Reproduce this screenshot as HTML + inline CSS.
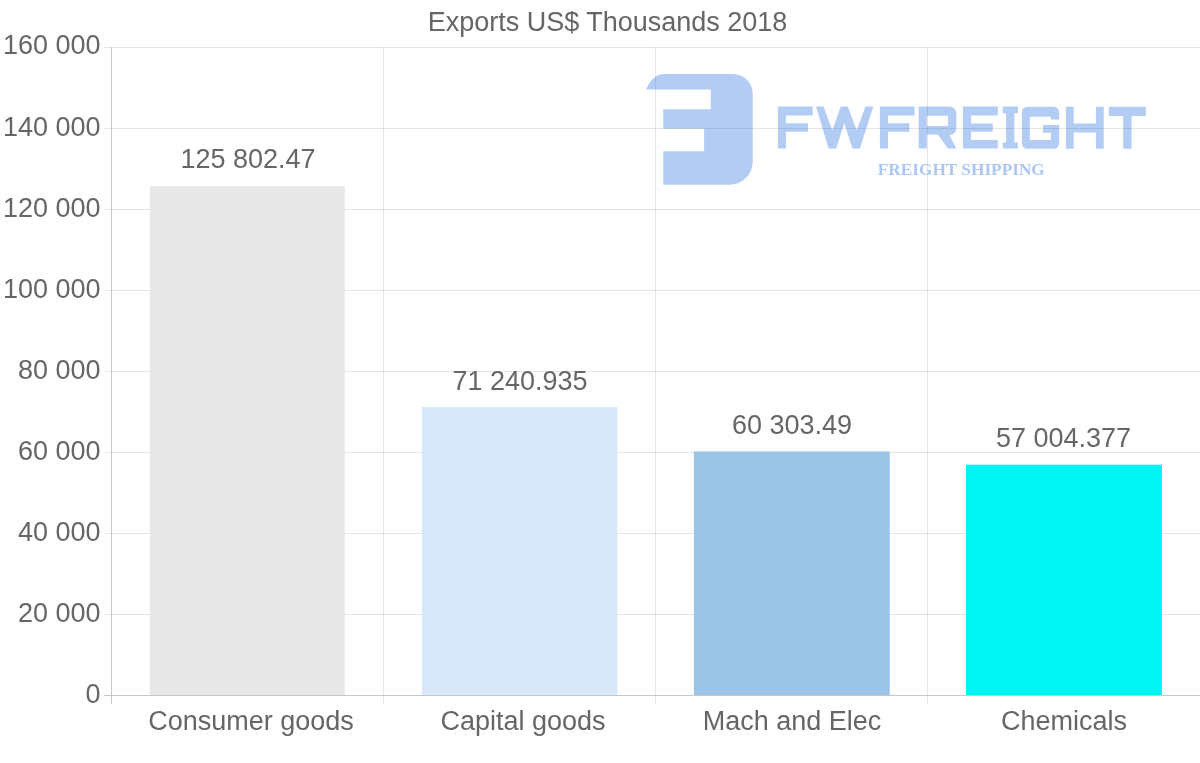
<!DOCTYPE html>
<html><head><meta charset="utf-8">
<style>
html,body{margin:0;padding:0;background:#fff;}
body{width:1200px;height:763px;overflow:hidden;position:relative;}
svg{position:absolute;left:0;top:0;display:block;will-change:transform;}
text{font-family:"Liberation Sans",sans-serif;fill:#666;}
</style></head>
<body>
<svg width="1200" height="763" viewBox="0 0 1200 763">
<rect x="0" y="0" width="1200" height="763" fill="#fff"/>
<g shape-rendering="crispEdges">
<!-- horizontal grid -->
<g fill="#000" fill-opacity="0.1">
<rect x="104" y="47" width="1096" height="1"/>
<rect x="104" y="128" width="1096" height="1"/>
<rect x="104" y="209" width="1096" height="1"/>
<rect x="104" y="290" width="1096" height="1"/>
<rect x="104" y="371" width="1096" height="1"/>
<rect x="104" y="452" width="1096" height="1"/>
<rect x="104" y="533" width="1096" height="1"/>
<rect x="104" y="614" width="1096" height="1"/>
</g>
<!-- vertical grid -->
<g fill="#000" fill-opacity="0.1">
<rect x="383" y="47" width="1" height="657"/>
<rect x="655" y="47" width="1" height="657"/>
<rect x="927" y="47" width="1" height="657"/>
</g>
<!-- bars -->
</g>
<rect x="149.8" y="186.1" width="195" height="509.2" fill="#e8e8e8"/>
<rect x="421.8" y="407.1" width="195.6" height="288.2" fill="#d7e8f9"/>
<rect x="693.9" y="451.4" width="195.8" height="243.9" fill="#9bc4e7"/>
<rect x="965.9" y="464.7" width="196" height="230.6" fill="#00f6f6"/>
<g shape-rendering="crispEdges">
<!-- axes -->
<rect x="111" y="47" width="1" height="657" fill="#c8c8c8"/>
<rect x="104" y="695" width="1096" height="1" fill="#c8c8c8"/>
</g>
<!-- logo watermark -->
<g fill="rgb(35,109,221)" fill-opacity="0.35">
<path d="M645.9,89.5 C649.5,83 654,74 664,74 L732.7,74 A20,20 0 0 1 752.7,94 L752.7,161.5 A23.2,23.2 0 0 1 729.5,184.7 L663.3,184.7 L663.3,151.2 L704.1,151.2 L704.1,128.8 L663.3,128.8 L663.3,109.3 L710.8,109.3 L710.8,89.5 Z"/>
<path d="M777.9,106.6 H812.7 V115.5 H786 V123.2 H807.9 V131.8 H786 V148.6 H777.9 Z"/>
<path d="M816,106.6 L823.5,106.6 L832.3,130.2 L840.8,106.6 L847.7,106.6 L856.7,130.2 L865.4,106.6 L873.3,106.6 L859.9,148.6 L852.4,148.6 L844.3,123.1 L836.2,148.6 L828.6,148.6 Z"/>
<path d="M879.9,106.6 H914.5 V115.5 H888 V123.2 H909.4 V131.8 H888 V148.6 H879.9 Z"/>
<path fill-rule="evenodd" d="M918.7,106.6 H948.5 Q956.3,106.6 956.3,114.4 V128 Q956.3,134 949.5,135 L956.3,148.6 H948 L937.8,134.5 H926.8 V148.6 H918.7 Z M926.8,115.7 V125.9 H948 V115.7 Z"/>
<path d="M963,106.6 H997.8 V115.5 H971 V123.6 H992.7 V131.7 H971 V140 H997.8 V148.6 H963 Z"/>
<path d="M1002.7,106.6 H1017.9 V113.2 H1014.3 V142.6 H1017.9 V148.6 H1002.7 V142.6 H1006.1 V113.2 H1002.7 Z"/>
<path d="M1027.9,106.8 H1053.1 Q1059.1,106.8 1059.1,112.8 V119.6 H1050.9 V116.7 H1029.8 V140 H1050.9 V132.8 H1043 V124.9 H1059.1 V142.8 Q1059.1,148.8 1053.1,148.8 H1027.9 Q1021.9,148.8 1021.9,142.8 V112.8 Q1021.9,106.8 1027.9,106.8 Z"/>
<path d="M1065.9,106.8 H1073.7 V123.6 H1095.9 V106.8 H1103.7 V148.8 H1095.9 V132.4 H1073.7 V148.8 H1065.9 Z"/>
<path d="M1108.9,106.8 H1145.9 V115.9 H1131.6 V148.8 H1123.2 V115.9 H1108.9 Z"/>
</g>
<text x="877.8" y="174.8" font-family="Liberation Serif" font-weight="bold" font-size="17.6" textLength="167" lengthAdjust="spacingAndGlyphs" style="font-family:'Liberation Serif',serif;fill:rgb(35,109,221);fill-opacity:0.38">FREIGHT SHIPPING</text>
<!-- title -->
<text x="607.5" y="31" font-size="27" text-anchor="middle">Exports US$ Thousands 2018</text>
<!-- y labels -->
<g font-size="27" text-anchor="end">
<text x="100.5" y="54">160 000</text>
<text x="100.5" y="136">140 000</text>
<text x="100.5" y="217">120 000</text>
<text x="100.5" y="298">100 000</text>
<text x="100.5" y="379">80 000</text>
<text x="100.5" y="460">60 000</text>
<text x="100.5" y="541">40 000</text>
<text x="100.5" y="622">20 000</text>
<text x="100.5" y="703">0</text>
</g>
<!-- x labels -->
<g font-size="27" text-anchor="middle">
<text x="251" y="730">Consumer goods</text>
<text x="523" y="730">Capital goods</text>
<text x="792" y="730">Mach and Elec</text>
<text x="1064" y="730">Chemicals</text>
</g>
<!-- value labels -->
<g font-size="27" text-anchor="middle">
<text x="248" y="168">125 802.47</text>
<text x="520" y="390">71 240.935</text>
<text x="792" y="434">60 303.49</text>
<text x="1063.5" y="447">57 004.377</text>
</g>
</svg>
</body></html>
